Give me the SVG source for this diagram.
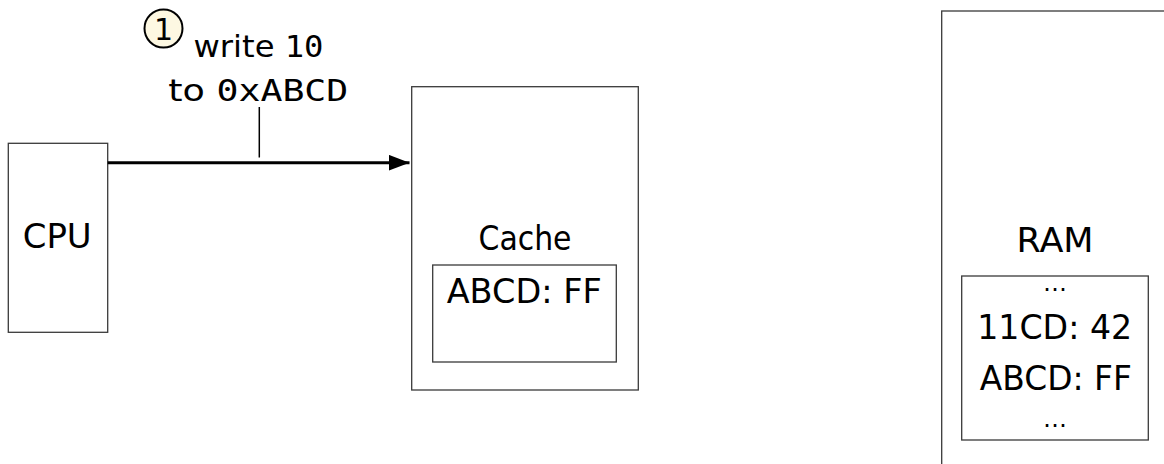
<svg xmlns="http://www.w3.org/2000/svg" width="1164" height="464" viewBox="0 0 1164 464">
  <style>
    .box { fill: #ffffff; stroke: #3a3a3a; stroke-width: 1.3; }
    .t { font-family: "DejaVu Sans", "Liberation Sans", sans-serif; font-size: 34px; fill: #000; text-anchor: middle; }
    .m { font-family: "DejaVu Sans Mono", "Liberation Mono", monospace; }
    .lbl { font-size: 31px; }
    .conn { stroke: #000; fill: none; }
  </style>
  <defs>
    <marker id="arrow" markerUnits="userSpaceOnUse" markerWidth="22" markerHeight="18" refX="21" refY="8" orient="auto">
      <path d="M0,0 L21,8 L0,16 Z" fill="#000"/>
    </marker>
  </defs>
  <rect width="1164" height="464" fill="#ffffff"/>

  <g id="cpu">
    <rect class="box" x="8.3" y="143.3" width="99.4" height="189"/>
    <text class="t" x="57.2" y="248" textLength="69" lengthAdjust="spacingAndGlyphs">CPU</text>
  </g>

  <g id="cache">
    <rect class="box" x="411.7" y="86.7" width="226.6" height="303.3"/>
    <text class="t" x="525" y="249.5" textLength="93" lengthAdjust="spacingAndGlyphs">Cache</text>
    <rect class="box" x="432.7" y="265" width="183.6" height="97"/>
    <text class="t" x="524.2" y="303.3" textLength="155" lengthAdjust="spacingAndGlyphs">ABCD: FF</text>
  </g>

  <g id="ram">
    <rect class="box" x="941.7" y="11" width="240" height="470"/>
    <text class="t" x="1055" y="251.7" textLength="77" lengthAdjust="spacingAndGlyphs">RAM</text>
    <rect class="box" x="961.7" y="276" width="186.6" height="164"/>
    <text class="t" x="1055" y="291" style="font-size:24px">…</text>
    <text class="t" x="1054.7" y="338.5" textLength="155" lengthAdjust="spacingAndGlyphs">11CD: 42</text>
    <text class="t" x="1055.8" y="390" textLength="152" lengthAdjust="spacingAndGlyphs">ABCD: FF</text>
    <text class="t" x="1055" y="427" style="font-size:24px">…</text>
  </g>

  <g id="connectors">
    <line class="conn" x1="107.7" y1="162.7" x2="409.5" y2="162.7" stroke-width="3" marker-end="url(#arrow)"/>
    <line class="conn" x1="259.3" y1="107" x2="259.3" y2="157.5" stroke-width="1.5"/>
  </g>

  <g id="label">
    <circle cx="163.5" cy="28.5" r="19" fill="#fdf8e2" stroke="#000" stroke-width="2"/>
    <text class="t" x="163.5" y="39.5" style="font-size:30px">1</text>
    <text class="t lbl" x="258.5" y="57" textLength="130" lengthAdjust="spacingAndGlyphs">write <tspan class="m">10</tspan></text>
    <text class="t lbl" x="258.3" y="101" textLength="180" lengthAdjust="spacingAndGlyphs">to <tspan class="m">0xABCD</tspan></text>
  </g>
</svg>
